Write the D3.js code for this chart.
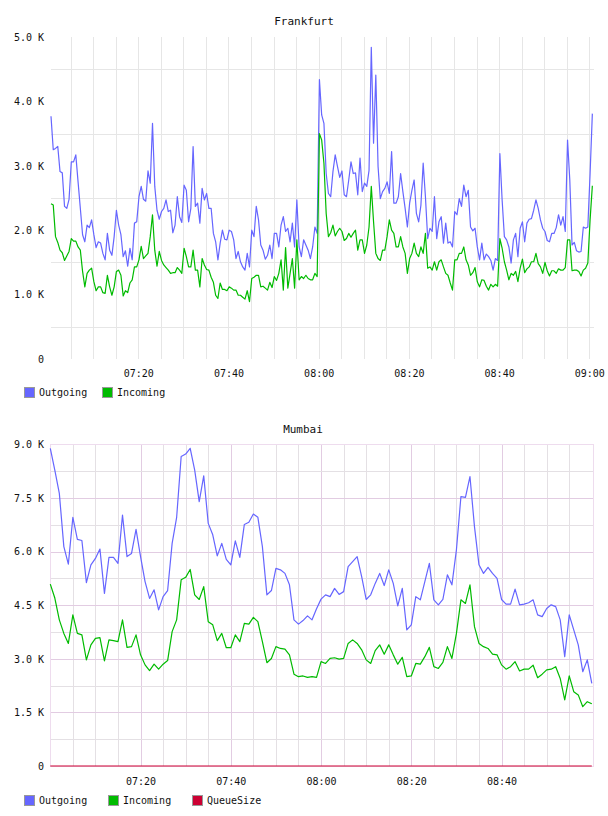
<!DOCTYPE html>
<html>
<head>
<meta charset="utf-8">
<script src="https://cdn.jsdelivr.net/npm/d3@7"></script>
<style>
  body { margin: 0; background: #fff; }
  svg text { font-family: "DejaVu Sans Mono", monospace; font-size: 10px; fill: #111; }
  svg .title { font-size: 11px; }
</style>
</head>
<body>
<script>
// Frankfurt: one sample every 30 s
const frankfurtStart = '07:00:40';
const frankfurtStepSeconds = 30;
const frankfurtOutgoing = [
  3770,3250,3270,3300,2910,2890,2370,2340,2480,3060,
  3060,3170,2750,2340,1930,1820,2080,2040,2160,1930,
  1730,1820,1800,1640,1540,1950,1690,1610,1900,2310,
  2080,1930,1590,1680,1440,1720,1540,2110,2130,2520,
  2680,2480,2450,2920,2730,3660,2680,2310,2170,2290,
  2340,2470,2290,2310,1960,2080,2520,2210,2120,2700,
  2620,2130,2340,3300,2370,2420,2110,2650,2470,2570,
  2340,2340,1950,1820,1540,1800,2000,1860,1850,2000,
  1980,1850,1560,1670,1510,1430,1380,1640,1430,2000,
  1900,2370,2160,1770,1690,1550,1610,1770,1560,1950,
  1950,1740,2080,2210,1980,2030,1820,2110,1740,2470,
  1740,1590,1850,1770,1690,1560,1740,2050,1950,4340,
  3790,3660,2880,2570,2520,2910,3170,2990,2820,2920,
  2550,2520,2780,3060,2880,2890,2550,3120,2600,2730,
  2680,2930,4840,3350,4410,2990,2490,2600,2650,2750,
  2570,3220,2420,2420,2520,2880,2600,2340,2050,2420,
  2620,2780,2260,2130,2390,3040,2520,1870,2030,1980,
  2520,1870,2130,2210,1800,2110,1800,1820,1740,2290,
  2240,2490,2370,2700,2520,2620,2050,1990,2030,1740,
  1540,1800,1540,1630,1590,1530,1380,1560,1530,3190,
  2470,1900,1850,1740,1490,1850,1950,1590,2030,2130,
  1820,2110,2170,2180,2310,2470,2340,2160,2030,1980,
  1840,1820,1950,1950,2040,2240,2080,2210,1980,3400,
  2780,1770,1810,1680,1660,1670,2050,2030,2050,2880,
  3810
];
const frankfurtIncoming = [
  2410,2390,1900,1810,1690,1650,1530,1600,1670,1870,
  1830,1830,1740,1690,1360,1120,1330,1380,1410,1200,
  1060,1120,1120,1030,1020,1300,1120,990,1120,1360,
  1380,1300,980,1060,1030,1180,1230,1430,1430,1540,
  1750,1560,1600,1640,1900,2240,1690,1440,1670,1530,
  1460,1420,1380,1330,1340,1340,1420,1380,1330,1720,
  1590,1430,1430,1690,1380,1380,1120,1560,1460,1390,
  1380,1270,1190,990,940,1180,1080,1080,1060,1120,
  1100,1070,1070,990,990,960,930,1060,890,1250,
  1270,1300,1300,1120,1130,1100,1070,1190,1110,1280,
  1220,1330,1540,1070,1730,1100,1330,1560,1100,1850,
  1230,1280,1250,1300,1250,1230,1230,1330,1280,3500,
  3400,3040,2260,1900,1960,2080,1910,1980,2030,1980,
  1840,1870,1950,1890,1950,2000,1690,1850,1850,1640,
  1770,2050,2680,2130,1640,1560,1530,1690,1690,1900,
  2160,2000,1950,1740,1740,1900,1740,1640,1330,1560,
  1640,1800,1640,1590,1740,1640,1950,1410,1430,1380,
  1510,1380,1510,1540,1430,1330,1300,1180,1070,1540,
  1540,1640,1640,1740,1540,1460,1300,1340,1420,1200,
  1120,1230,1220,1130,1070,1160,1120,1160,1130,1870,
  1720,1510,1380,1230,1330,1300,1360,1200,1410,1550,
  1340,1400,1430,1510,1510,1640,1480,1430,1330,1500,
  1370,1290,1370,1370,1330,1400,1380,1380,1420,1850,
  1850,1370,1380,1380,1360,1290,1380,1410,1490,2160,
  2690
];
const frankfurtXLabels = ['07:20', '07:40', '08:00', '08:20', '08:40', '09:00'];
const frankfurtYLabels = [0, 1000, 2000, 3000, 4000, 5000];
const frankfurtYGrid = [500, 1500, 2500, 3500, 4500];

// Mumbai: one sample every minute
const mumbaiStart = '07:00:00';
const mumbaiStepSeconds = 60;
const mumbaiOutgoing = [
  8890,8280,7630,6140,5650,6960,6340,6310,5130,5630,
  5810,6070,4830,5840,5840,5670,7020,5860,5950,6620,
  5860,5160,4690,4930,4370,4740,4910,6230,6960,8660,
  8730,8890,8280,7400,8120,6790,6470,5880,6230,5780,
  5630,6300,5840,6760,6820,7050,6960,6140,4790,4910,
  5530,5490,5390,5070,4090,3970,4070,4200,4090,4400,
  4670,4790,4740,4970,4800,4880,5580,5720,5860,5300,
  4660,4790,5110,5390,5050,5490,5110,4480,4970,3810,
  3950,4740,4650,5160,5670,4650,4510,4660,5350,5070,
  6050,7540,7520,8100,6700,5630,5390,5560,5390,5250,
  4660,4530,4530,4950,4510,4530,4570,4650,4230,4180,
  4410,4510,4460,4090,3060,4230,3810,3390,2640,2970,
  2310
];
const mumbaiIncoming = [
  5090,4700,4090,3710,3430,4230,3710,3670,2970,3390,
  3570,3590,2940,3530,3510,3480,4090,3320,3340,3670,
  3110,2830,2670,2850,2710,2850,2950,3760,4090,5210,
  5280,5500,4790,4660,5020,4040,3950,3510,3710,3310,
  3310,3670,3480,3990,3970,4160,4040,3480,2890,3010,
  3340,3290,3270,3110,2570,2500,2520,2480,2500,2480,
  2920,2870,3010,3030,2990,3010,3430,3530,3430,3250,
  2970,2870,3230,3390,3130,3390,3110,2850,3040,2500,
  2520,2870,2850,3060,3320,2780,2730,2900,3340,3010,
  3710,4650,4550,5070,3900,3430,3340,3290,3130,3110,
  2830,2710,2780,2920,2660,2710,2710,2820,2470,2570,
  2690,2710,2780,2450,1850,2520,2080,1990,1660,1800,
  1740
];
const mumbaiQueueSize = [
  0,0,0,0,0,0,0,0,0,0, 0,0,0,0,0,0,0,0,0,0,
  0,0,0,0,0,0,0,0,0,0, 0,0,0,0,0,0,0,0,0,0,
  0,0,0,0,0,0,0,0,0,0, 0,0,0,0,0,0,0,0,0,0,
  0,0,0,0,0,0,0,0,0,0, 0,0,0,0,0,0,0,0,0,0,
  0,0,0,0,0,0,0,0,0,0, 0,0,0,0,0,0,0,0,0,0,
  0,0,0,0,0,0,0,0,0,0, 0,0,0,0,0,0,0,0,0,0,
  0
];
const mumbaiXLabels = ['07:20', '07:40', '08:00', '08:20', '08:40'];
const mumbaiYLabels = [0, 1500, 3000, 4500, 6000, 7500, 9000];
const mumbaiYGrid = [750, 1500, 2250, 3000, 3750, 4500, 5250, 6000, 6750, 7500, 8250];

const seriesColors = { Outgoing: '#6666ff', Incoming: '#00bb00', QueueSize: '#cc0033' };

const parseTime = d3.timeParse('%H:%M:%S');
const toTime = s => parseTime(s.length === 5 ? s + ':00' : s);
const toSeries = (start, step, values) => {
  const t0 = toTime(start).getTime();
  return values.map((v, i) => ({ t: new Date(t0 + i * step * 1000), v }));
};
const yFormat = v => v === 0 ? '0' : (v / 1000).toFixed(1) + ' K';
const crisp = v => Math.round(v) + 0.5;

const svg = d3.select('body').append('svg')
  .attr('width', 608)
  .attr('height', 816);

function drawChart(opt) {
  const g = svg.append('g');
  const x = d3.scaleTime().domain(opt.xDomain.map(toTime)).range(opt.xRange);
  const y = d3.scaleLinear().domain(opt.yDomain).range(opt.yRange);
  const [left, right] = opt.xRange;
  const [bottom, top] = opt.yRange;

  g.append('text')
    .attr('class', 'title')
    .attr('x', opt.titleX)
    .attr('y', opt.titleY)
    .attr('text-anchor', 'middle')
    .text(opt.title);

  // vertical grid, every 5 minutes
  const gridTimes = d3.timeMinute.every(5).range(...x.domain())
    .filter(t => x(t) > left + 2 && x(t) < right - 3);
  g.selectAll('.vgrid')
    .data(gridTimes)
    .enter()
    .append('line')
    .attr('x1', d => crisp(x(d)))
    .attr('x2', d => crisp(x(d)))
    .attr('y1', top)
    .attr('y2', bottom)
    .attr('stroke', d => d.getMinutes() % 20 === 0 ? opt.majorGrid : opt.minorGrid);

  g.selectAll('.hgrid')
    .data(opt.yGrid)
    .enter()
    .append('line')
    .attr('x1', left)
    .attr('x2', right)
    .attr('y1', d => crisp(y(d)))
    .attr('y2', d => crisp(y(d)))
    .attr('stroke', d => opt.yLabels.includes(d) ? opt.majorGrid : opt.minorGrid);

  if (opt.border) {
    g.append('rect')
      .attr('x', crisp(left))
      .attr('y', crisp(top))
      .attr('width', Math.round(right - left))
      .attr('height', Math.round(bottom - top))
      .attr('fill', 'none')
      .attr('stroke', opt.border);
  }

  g.append('g')
    .attr('transform', `translate(0, ${bottom})`)
    .call(d3.axisBottom(x)
      .tickValues(opt.xLabels.map(toTime))
      .tickFormat(d3.timeFormat('%H:%M'))
      .tickSize(0)
      .tickPadding(opt.xPad))
    .call(a => a.select('.domain').remove());

  g.append('g')
    .attr('transform', 'translate(44, 0)')
    .call(d3.axisLeft(y)
      .tickValues(opt.yLabels)
      .tickFormat(yFormat)
      .tickSize(0)
      .tickPadding(0))
    .call(a => a.select('.domain').remove());

  const line = d3.line()
    .x(d => x(d.t))
    .y(d => y(d.v));

  opt.series.forEach(s => {
    g.append('path')
      .datum(toSeries(opt.start, opt.step, s.values))
      .attr('fill', 'none')
      .attr('stroke', seriesColors[s.name])
      .attr('stroke-width', 1.2)
      .attr('stroke-linejoin', 'round')
      .attr('d', line);
  });

  // legend
  opt.series.forEach((s, i) => {
    const lx = opt.legendX[i];
    g.append('rect')
      .attr('x', lx + 0.5)
      .attr('y', opt.legendY + 0.5)
      .attr('width', 10)
      .attr('height', 10)
      .attr('fill', seriesColors[s.name])
      .attr('stroke', '#999');
    g.append('text')
      .attr('x', lx + 15)
      .attr('y', opt.legendY + 9)
      .text(s.name);
  });
}

drawChart({
  title: 'Frankfurt', titleX: 304, titleY: 25,
  xDomain: ['07:00:40', '09:01:02'], xRange: [51, 594],
  yDomain: [0, 5000], yRange: [359, 37],
  start: frankfurtStart, step: frankfurtStepSeconds,
  xLabels: frankfurtXLabels, yLabels: frankfurtYLabels, yGrid: frankfurtYGrid,
  xPad: 10.6,
  majorGrid: '#e6e6e6', minorGrid: '#e6e6e6', border: null,
  series: [
    { name: 'Outgoing', values: frankfurtOutgoing },
    { name: 'Incoming', values: frankfurtIncoming }
  ],
  legendX: [24, 102], legendY: 387
});

drawChart({
  title: 'Mumbai', titleX: 303, titleY: 433,
  xDomain: ['07:00:00', '09:00:20'], xRange: [50.3, 593.3],
  yDomain: [0, 9000], yRange: [766, 444.4],
  start: mumbaiStart, step: mumbaiStepSeconds,
  xLabels: mumbaiXLabels, yLabels: mumbaiYLabels, yGrid: mumbaiYGrid,
  xPad: 11.9,
  majorGrid: '#e2cce2', minorGrid: '#e4e0e4', border: '#eedcee',
  series: [
    { name: 'Outgoing', values: mumbaiOutgoing },
    { name: 'Incoming', values: mumbaiIncoming },
    { name: 'QueueSize', values: mumbaiQueueSize }
  ],
  legendX: [24, 108, 192], legendY: 795
});
</script>
</body>
</html>
